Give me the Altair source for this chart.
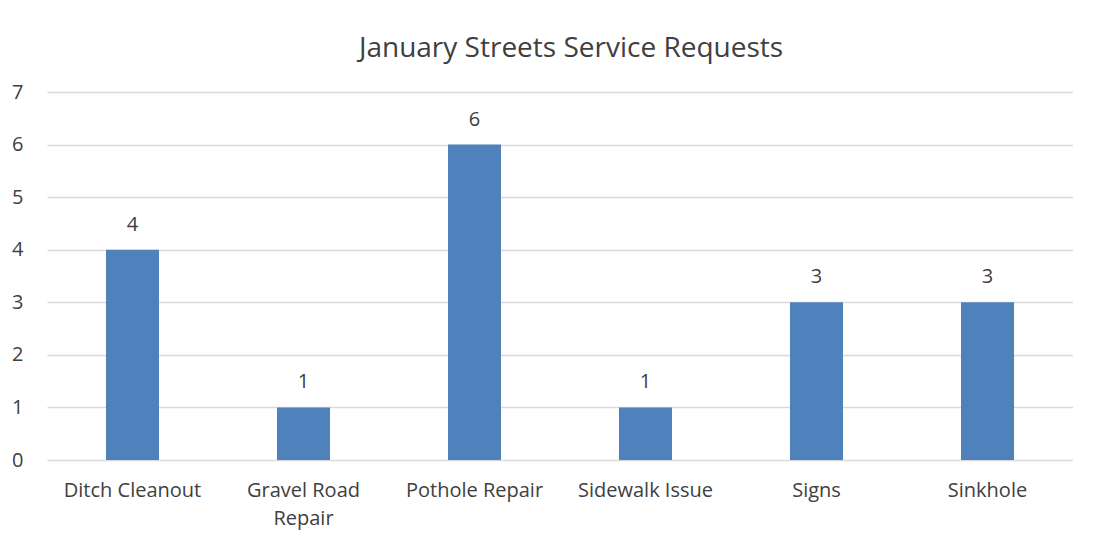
import altair as alt
import pandas as pd

categories = ["Ditch Cleanout", "Gravel Road Repair", "Pothole Repair", "Sidewalk Issue", "Signs", "Sinkhole"]
requests = [4, 1, 6, 1, 3, 3]

df = pd.DataFrame({"category": categories, "requests": requests})

FONT = "Open Sans"
FS = 20

base = alt.Chart(df).encode(
    x=alt.X("category:N", sort=categories,
            scale=alt.Scale(paddingInner=0.69, paddingOuter=0.345),
            axis=alt.Axis(title=None, labelAngle=0, labelFontSize=FS, labelFont=FONT,
                          labelColor="#404040", domain=False, ticks=False, labelPadding=20,
                          labelLineHeight=28,
                          labelExpr="datum.label == 'Gravel Road Repair' ? ['Gravel Road', 'Repair'] : datum.label")),
    y=alt.Y("requests:Q", scale=alt.Scale(domain=[0, 7]),
            axis=alt.Axis(title=None, values=[0, 1, 2, 3, 4, 5, 6, 7], labelFontSize=FS, labelFont=FONT,
                          labelColor="#404040", domain=False, ticks=False, labelPadding=24,
                          gridColor="#d9d9d9", gridWidth=1.5)),
)

bars = base.mark_bar(color="#4f81bd")
text = base.mark_text(dy=-19, fontSize=FS, font=FONT, color="#404040", baseline="alphabetic").encode(
    text="requests:Q")

chart = (bars + text).properties(
    width=1026, height=368,
    autosize=alt.AutoSizeParams(type="none"),
    padding={"left": 39, "top": 84, "right": 0, "bottom": 77},
    title=alt.TitleParams("January Streets Service Requests", fontSize=28, font=FONT,
                          fontWeight="normal", color="#404040", offset=19, dx=11, anchor="middle"),
).configure_view(stroke=None)

chart.save("out.html", embed_options={"renderer": "svg", "actions": False})
